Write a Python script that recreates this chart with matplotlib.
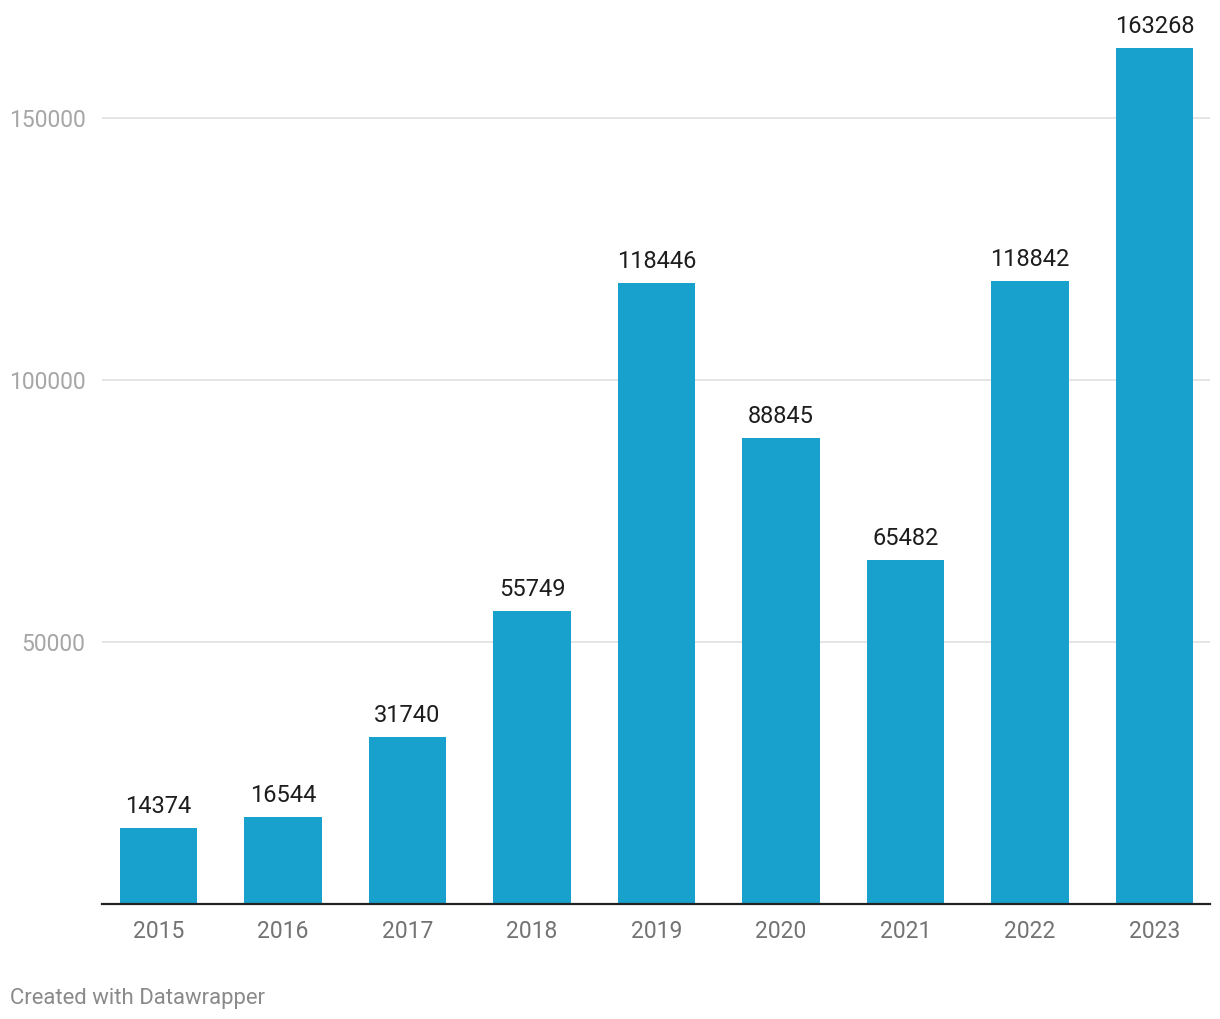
import matplotlib.pyplot as plt

years = ['2015', '2016', '2017', '2018', '2019', '2020', '2021', '2022', '2023']
values = [14374, 16544, 31740, 55749, 118446, 88845, 65482, 118842, 163268]
yticks = [50000, 100000, 150000]

plt.rcParams['font.family'] = ['Roboto', 'DejaVu Sans']

W, H = 1220, 1020
BASE = 904.5  # pixel row of the zero line
fig = plt.figure(figsize=(W / 100, H / 100), dpi=100)
# axes box in pixel coords: left 102, right 1210, bottom BASE, top 0
ax = fig.add_axes([102 / W, (H - BASE) / H, (1210 - 102) / W, BASE / H])

x = list(range(len(years)))
ax.bar(x, values, width=0.62, color='#18a1cd', zorder=3)

ax.set_xlim(-0.454, len(years) - 1 + 0.446)
ax.set_ylim(0, BASE / 262 * 50000)

for xi, v in zip(x, values):
    ax.annotate(str(v), (xi, v), xytext=(0, 11.5), textcoords='offset points',
                ha='center', va='baseline', fontsize=17, color='#1d1d1d')

ax.set_yticks(yticks)
ax.set_yticklabels([str(t) for t in yticks])
ax.yaxis.grid(True, color='#e3e3e3', linewidth=1.3, zorder=0)
ax.tick_params(axis='y', length=0, pad=12, labelsize=16.5, labelcolor='#a6a6a6')

ax.set_xticks(x)
ax.set_xticklabels(years)
ax.tick_params(axis='x', length=0, pad=11, labelsize=16.5, labelcolor='#737373')

for s in ['top', 'right', 'left']:
    ax.spines[s].set_visible(False)
ax.spines['bottom'].set_color('#222222')
ax.spines['bottom'].set_linewidth(1.6)
ax.spines['bottom'].set_zorder(4)

fig.text(10 / W, 1 - 1004 / H, 'Created with Datawrapper', fontsize=15.9,
         color='#8a8a8a', ha='left', va='baseline')

fig.savefig('out.png', dpi=100, facecolor='white')
